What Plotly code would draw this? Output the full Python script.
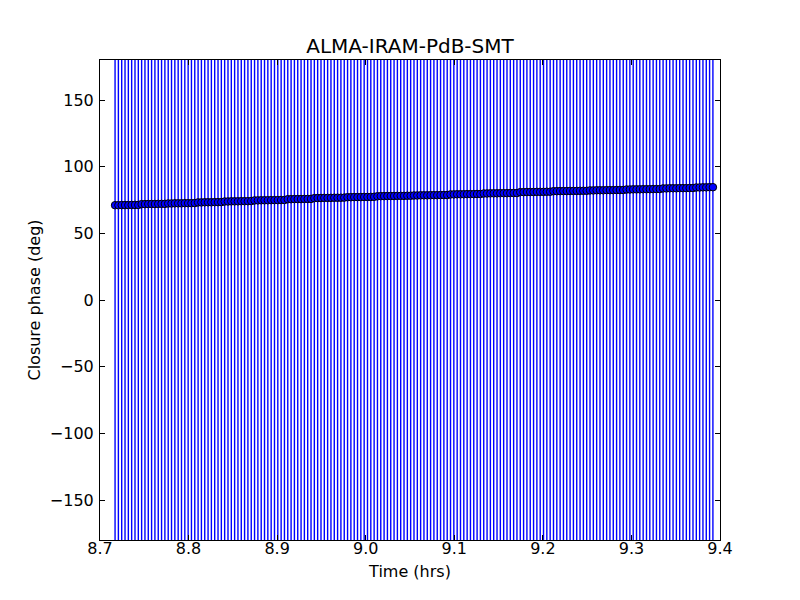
import plotly.graph_objects as go

# Time (hrs)
time_hrs = [
    8.71700, 8.72075, 8.72450, 8.72825, 8.73200, 8.73575, 8.73950, 8.74325,
    8.74700, 8.75075, 8.75450, 8.75825, 8.76200, 8.76575, 8.76950, 8.77325,
    8.77700, 8.78075, 8.78450, 8.78825, 8.79200, 8.79575, 8.79950, 8.80325,
    8.80700, 8.81075, 8.81450, 8.81825, 8.82200, 8.82575, 8.82950, 8.83325,
    8.83700, 8.84075, 8.84450, 8.84825, 8.85200, 8.85575, 8.85950, 8.86325,
    8.86700, 8.87075, 8.87450, 8.87825, 8.88200, 8.88575, 8.88950, 8.89325,
    8.89700, 8.90075, 8.90450, 8.90825, 8.91200, 8.91575, 8.91950, 8.92325,
    8.92700, 8.93075, 8.93450, 8.93825, 8.94200, 8.94575, 8.94950, 8.95325,
    8.95700, 8.96075, 8.96450, 8.96825, 8.97200, 8.97575, 8.97950, 8.98325,
    8.98700, 8.99075, 8.99450, 8.99825, 9.00200, 9.00575, 9.00950, 9.01325,
    9.01700, 9.02075, 9.02450, 9.02825, 9.03200, 9.03575, 9.03950, 9.04325,
    9.04700, 9.05075, 9.05450, 9.05825, 9.06200, 9.06575, 9.06950, 9.07325,
    9.07700, 9.08075, 9.08450, 9.08825, 9.09200, 9.09575, 9.09950, 9.10325,
    9.10700, 9.11075, 9.11450, 9.11825, 9.12200, 9.12575, 9.12950, 9.13325,
    9.13700, 9.14075, 9.14450, 9.14825, 9.15200, 9.15575, 9.15950, 9.16325,
    9.16700, 9.17075, 9.17450, 9.17825, 9.18200, 9.18575, 9.18950, 9.19325,
    9.19700, 9.20075, 9.20450, 9.20825, 9.21200, 9.21575, 9.21950, 9.22325,
    9.22700, 9.23075, 9.23450, 9.23825, 9.24200, 9.24575, 9.24950, 9.25325,
    9.25700, 9.26075, 9.26450, 9.26825, 9.27200, 9.27575, 9.27950, 9.28325,
    9.28700, 9.29075, 9.29450, 9.29825, 9.30200, 9.30575, 9.30950, 9.31325,
    9.31700, 9.32075, 9.32450, 9.32825, 9.33200, 9.33575, 9.33950, 9.34325,
    9.34700, 9.35075, 9.35450, 9.35825, 9.36200, 9.36575, 9.36950, 9.37325,
    9.37700, 9.38075, 9.38450, 9.38825, 9.39200,
]

# Closure phase (deg)
closure_phase = [
    71.1, 71.1, 71.2, 71.2, 71.2, 71.3, 71.3, 71.3,
    71.9, 71.9, 72.0, 72.0, 72.0, 72.1, 72.1, 72.1,
    72.4, 72.4, 72.5, 72.5, 72.5, 72.6, 72.6, 72.6, 72.7,
    73.2, 73.2, 73.3, 73.3, 73.3, 73.4, 73.4, 73.4,
    73.9, 73.9, 74.0, 74.0, 74.0, 74.1, 74.1, 74.1, 74.2,
    74.7, 74.7, 74.8, 74.8, 74.8, 74.9, 74.9, 74.9, 75.0, 75.0,
    75.6, 75.6, 75.7, 75.7, 75.7, 75.8, 75.8, 75.8,
    76.4, 76.5, 76.5, 76.6, 76.6, 76.6, 76.7, 76.7, 76.7, 76.8,
    77.1, 77.1, 77.2, 77.2, 77.2, 77.3, 77.3, 77.3, 77.4,
    77.8, 77.9, 77.9, 78.0, 78.0, 78.0, 78.1, 78.1, 78.1, 78.2, 78.2,
    78.4, 78.4, 78.5, 78.5, 78.5, 78.6, 78.6, 78.6, 78.7, 78.7, 78.7,
    79.2, 79.2, 79.3, 79.3, 79.3, 79.4, 79.4, 79.4, 79.5, 79.5,
    79.9, 79.9, 80.0, 80.0, 80.0, 80.1, 80.1, 80.1, 80.2, 80.2, 80.2,
    80.9, 80.9, 81.0, 81.0, 81.0, 81.1, 81.1, 81.1, 81.2, 81.2,
    81.6, 81.6, 81.7, 81.7, 81.7, 81.8, 81.8, 81.8, 81.9, 81.9, 81.9,
    82.2, 82.2, 82.3, 82.3, 82.3, 82.4, 82.4, 82.4, 82.5, 82.5, 82.5,
    82.9, 82.9, 83.0, 83.0, 83.0, 83.1, 83.1, 83.1, 83.2, 83.2, 83.2,
    83.7, 83.7, 83.8, 83.8, 83.8, 83.9, 83.9, 83.9, 84.0, 84.0,
    84.4, 84.4, 84.5, 84.5, 84.6, 84.6,
]

# Closure phase uncertainty (deg) - very large, spans the whole axis
phase_sigma = 400.0

x_ticks = [8.7, 8.8, 8.9, 9.0, 9.1, 9.2, 9.3, 9.4]
y_ticks = [-150, -100, -50, 0, 50, 100, 150]

FONT = "DejaVu Sans"

fig = go.Figure()
fig.add_trace(go.Scatter(
    x=time_hrs,
    y=closure_phase,
    mode="markers",
    marker=dict(color="#0000ff", size=7.5, line=dict(color="black", width=1)),
    error_y=dict(type="constant", value=phase_sigma, color="#0000ff",
                 thickness=1.4, width=0, visible=True),
    showlegend=False,
))

axis_common = dict(
    showline=True, linecolor="black", linewidth=1, mirror="allticks",
    ticks="inside", ticklen=5, tickwidth=1, tickcolor="black",
    showgrid=False, zeroline=False,
    tickfont=dict(family=FONT, size=16, color="black"),
)

fig.update_layout(
    width=800, height=600, autosize=False,
    paper_bgcolor="white", plot_bgcolor="white",
    margin=dict(l=92, r=88, t=52, b=68),
    font=dict(family=FONT, color="black"),
    title=dict(text="ALMA-IRAM-PdB-SMT", x=(92 + 310) / 800, xref="container",
               xanchor="center",
               y=1 - 38 / 600, yref="container", yanchor="middle",
               font=dict(family=FONT, size=20, color="black")),
    xaxis=dict(range=[8.7, 9.4], tickvals=x_ticks, tickformat=".1f",
               ticklabelstandoff=-6,
               title=dict(text="Time (hrs)", font=dict(family=FONT, size=16),
                          standoff=8),
               **axis_common),
    yaxis=dict(range=[-180, 180], tickvals=y_ticks,
               ticklabelstandoff=2,
               title=dict(text="Closure phase (deg)", font=dict(family=FONT, size=16),
                          standoff=5),
               **axis_common),
)

fig.write_html("out.html")
